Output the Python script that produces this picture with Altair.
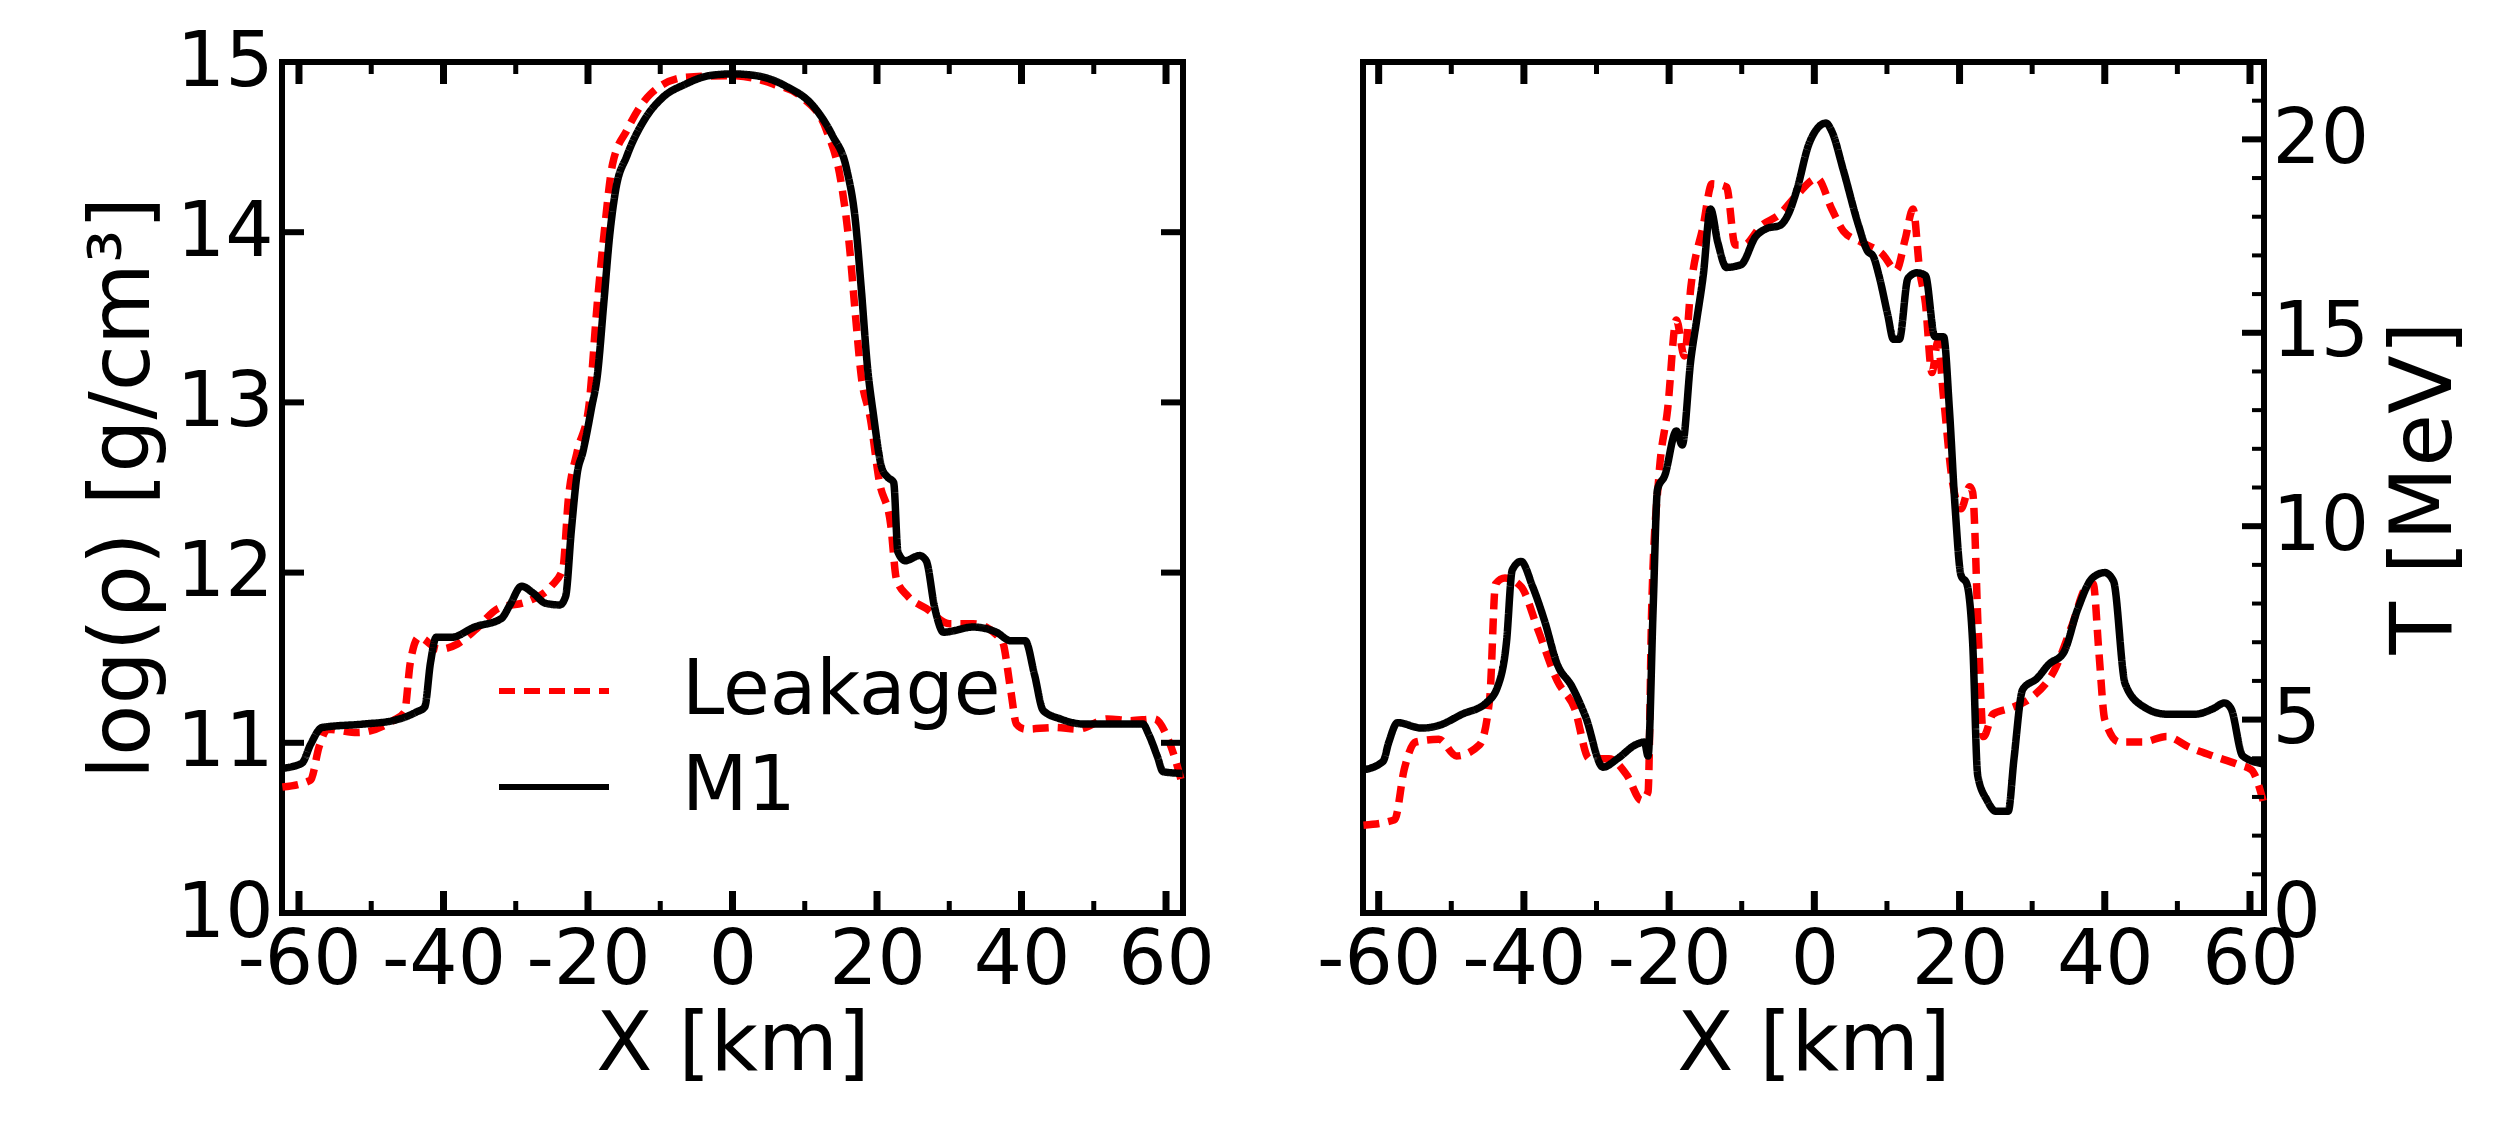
import altair as alt
import pandas as pd

FONT = "DejaVu Sans"

# ---------------- data: left panel, log(rho) ----------------
rho_m1_x = [-62.3, -59.6, -58.4, -56.8, -51.1, -47.0, -43.8, -42.6, -41.8, -41.0,
            -38.9, -35.7, -32.0, -30.8, -29.2, -27.6, -25.9, -23.9, -23.1, -22.3,
            -21.5, -20.7, -19.5, -18.7, -17.8, -17.0, -16.2, -14.6, -12.2, -9.7,
            -6.5, -3.2, 0.0, 3.2, 7.3, 11.4, 13.8, 15.8, 17.0, 17.8,
            18.7, 19.5, 20.7, 21.5, 22.3, 22.9, 23.9, 25.9, 26.8, 28.0,
            29.2, 33.3, 36.5, 38.5, 40.5, 41.8, 43.0, 45.4, 48.7, 56.8,
            57.6, 58.8, 59.6, 62.3]
rho_m1_y = [10.85, 10.88, 10.99, 11.09, 11.11, 11.13, 11.18, 11.21, 11.47, 11.62,
            11.62, 11.68, 11.73, 11.81, 11.92, 11.88, 11.82, 11.81, 11.86, 12.25,
            12.58, 12.71, 12.97, 13.16, 13.59, 13.98, 14.24, 14.45, 14.66, 14.79,
            14.87, 14.92, 14.93, 14.92, 14.86, 14.73, 14.57, 14.37, 14.07, 13.68,
            13.20, 12.93, 12.61, 12.56, 12.53, 12.12, 12.07, 12.10, 12.07, 11.79,
            11.65, 11.68, 11.65, 11.60, 11.60, 11.40, 11.19, 11.14, 11.11, 11.11,
            11.05, 10.92, 10.83, 10.82]

rho_lk_x = [-62.3, -58.4, -57.2, -56.0, -51.9, -47.0, -45.4, -44.6, -43.4, -40.6,
            -38.1, -35.7, -32.4, -28.4, -25.1, -23.5, -22.7, -21.5, -19.9, -18.7,
            -17.8, -16.6, -14.6, -11.4, -6.5, 0.0, 5.7, 9.7, 13.0, 15.0,
            16.2, 17.0, 17.8, 19.1, 20.3, 21.9, 22.7, 24.3, 26.8, 30.0,
            33.3, 37.3, 38.5, 39.3, 40.5, 44.6, 47.8, 51.9, 55.1, 58.4,
            60.4, 62.3]
rho_lk_y = [10.74, 10.78, 10.98, 11.08, 11.06, 11.13, 11.18, 11.47, 11.62, 11.55,
            11.58, 11.66, 11.79, 11.83, 11.92, 12.02, 12.44, 12.71, 12.97, 13.59,
            13.98, 14.40, 14.60, 14.81, 14.91, 14.92, 14.87, 14.79, 14.60, 14.30,
            13.91, 13.52, 13.16, 12.90, 12.54, 12.28, 11.96, 11.86, 11.79, 11.70,
            11.70, 11.60, 11.31, 11.11, 11.08, 11.09, 11.08, 11.14, 11.13, 11.14,
            11.01, 10.75]

# ---------------- data: right panel, T [MeV] ----------------
t_m1_x = [-62.1, -59.4, -58.6, -57.4, -54.1, -51.7, -48.5, -45.2, -43.6, -42.4,
          -41.6, -40.4, -38.8, -37.2, -35.4, -33.4, -31.5, -29.1, -27.1, -24.6,
          -23.4, -22.9, -22.2, -21.6, -20.6, -19.0, -18.2, -17.0, -16.2, -15.3,
          -14.3, -13.3, -12.1, -10.1, -8.1, -6.5, -4.8, -3.6, -2.4, -0.8,
          0.4, 1.6, 2.4, 4.0, 6.1, 7.3, 8.1, 8.9, 10.1, 10.9,
          11.7, 12.9, 14.1, 15.3, 16.6, 17.8, 18.6, 19.4, 20.2, 21.0,
          21.8, 22.5, 23.8, 25.0, 26.7, 27.5, 28.7, 30.7, 32.3, 34.3,
          36.3, 38.3, 40.0, 41.2, 42.8, 45.2, 48.5, 52.5, 54.9, 56.5,
          57.4, 59.0, 61.9]
t_m1_y = [3.70, 3.92, 4.42, 4.92, 4.78, 4.85, 5.14, 5.43, 5.86, 7.00,
          8.87, 9.09, 8.44, 7.58, 6.43, 5.86, 5.07, 3.77, 3.99, 4.35,
          4.42, 4.06, 7.87, 10.95, 11.31, 12.46, 12.10, 14.32, 15.33, 16.48,
          18.20, 17.34, 16.69, 16.76, 17.48, 17.70, 17.77, 18.06, 18.70, 19.85,
          20.28, 20.42, 20.21, 19.20, 17.77, 17.12, 16.98, 16.48, 15.47, 14.83,
          14.83, 16.41, 16.55, 16.48, 14.90, 14.90, 13.03, 10.45, 8.73, 8.51,
          7.00, 3.56, 2.91, 2.63, 2.63, 3.99, 5.78, 6.07, 6.43, 6.72,
          7.87, 8.66, 8.80, 8.58, 5.93, 5.35, 5.14, 5.14, 5.28, 5.43,
          5.28, 4.06, 3.85]

t_lk_x = [-62.1, -57.8, -56.5, -54.9, -51.7, -49.3, -46.1, -44.7, -43.9, -42.6,
          -40.4, -38.0, -35.4, -33.0, -31.0, -28.3, -25.8, -23.8, -22.9, -22.4,
          -21.4, -20.2, -19.0, -17.9, -17.0, -15.3, -14.1, -12.1, -10.9, -9.7,
          -7.3, -4.8, -2.4, 0.4, 2.4, 4.0, 6.5, 9.3, 11.3, 12.5,
          13.6, 14.5, 15.3, 16.2, 17.0, 17.8, 19.0, 20.2, 21.4, 21.8,
          22.6, 23.3, 24.6, 26.7, 29.9, 33.1, 35.5, 37.5, 38.4, 39.2,
          40.0, 42.0, 45.2, 48.5, 51.7, 54.9, 58.2, 60.2, 61.9]
t_lk_y = [2.27, 2.41, 3.70, 4.42, 4.49, 4.06, 4.35, 5.57, 8.51, 8.66,
          8.44, 7.29, 6.00, 5.28, 3.99, 3.99, 3.56, 2.91, 3.13, 7.87,
          11.31, 13.03, 15.33, 14.40, 16.19, 17.77, 18.85, 18.77, 17.27, 17.27,
          17.77, 18.06, 18.56, 18.99, 18.20, 17.63, 17.34, 17.05, 16.62, 17.41,
          18.20, 16.62, 15.76, 13.97, 14.76, 13.32, 11.17, 10.45, 11.02, 10.88,
          7.15, 4.56, 5.14, 5.28, 5.57, 6.29, 7.44, 8.44, 8.51, 6.72,
          5.00, 4.42, 4.42, 4.56, 4.28, 4.06, 3.85, 3.70, 2.84]

series_names = ["Leakage", "M1"]
series_colors = ["#ff0000", "#000000"]

# ---------------- tick positions ----------------
x_major = [-60, -40, -20, 0, 20, 40, 60]
x_minor = [-50, -30, -10, 10, 30, 50]
rho_major = [10, 11, 12, 13, 14, 15]
t_major = [0, 5, 10, 15, 20]
t_minor = [1, 2, 3, 4, 6, 7, 8, 9, 11, 12, 13, 14, 16, 17, 18, 19, 21]

W, H = 901, 851
MAJ, MIN = 22, 12
LW = 7.5

rho_df = pd.DataFrame({
    "x": rho_lk_x + rho_m1_x,
    "v": rho_lk_y + rho_m1_y,
    "series": ["Leakage"] * len(rho_lk_x) + ["M1"] * len(rho_m1_x),
})
t_df = pd.DataFrame({
    "x": t_lk_x + t_m1_x,
    "v": t_lk_y + t_m1_y,
    "series": ["Leakage"] * len(t_lk_x) + ["M1"] * len(t_m1_x),
})


def x_axis():
    return alt.Axis(values=x_major, labelExpr="datum.value + ''", ticks=False, tickSize=0,
                    domain=False, grid=False, labelFontSize=76, labelFont=FONT,
                    labelColor="black", labelPadding=10, labelFlush=False,
                    title="X [km]", titleFont=FONT, titleFontSize=82,
                    titleFontWeight="normal", titleColor="black", titlePadding=6)


def y_axis_left():
    return alt.Axis(values=rho_major, ticks=False, tickSize=0, domain=False, grid=False,
                    labelFontSize=76, labelFont=FONT, labelColor="black", labelPadding=9,
                    labelFlush=False,
                    title="log(ρ) [g/cm³]", titleFont=FONT, titleFontSize=84,
                    titleFontWeight="normal", titleColor="black", titlePadding=10)


def y_axis_right():
    return alt.Axis(orient="right", values=t_major, ticks=False, tickSize=0, domain=False,
                    grid=False, labelFontSize=76, labelFont=FONT, labelColor="black",
                    labelPadding=8, labelFlush=False,
                    title="T [MeV]", titleFont=FONT, titleFontSize=86, titleAngle=270,
                    titleBaseline="top", titleFontWeight="normal", titleColor="black",
                    titlePadding=14)


def tick_layers(xscale, yscale, xax, yax, yvals_major, yvals_minor, left_ticks, right_ticks):
    layers = []
    for vals, ln, sw in [(x_major, MAJ, 7), (x_minor, MIN, 5)]:
        d = pd.DataFrame({"x": vals})
        layers.append(alt.Chart(d).mark_rule(color="black", strokeWidth=sw).encode(
            x=alt.X("x:Q", scale=xscale, axis=xax()), y=alt.value(H), y2=alt.value(H - ln)))
        layers.append(alt.Chart(d).mark_rule(color="black", strokeWidth=sw).encode(
            x=alt.X("x:Q", scale=xscale, axis=xax()), y=alt.value(0), y2=alt.value(ln)))
    for vals, ln, sw in [(yvals_major, MAJ, 6), (yvals_minor, MIN, 4)]:
        if not vals:
            continue
        d = pd.DataFrame({"v": vals})
        if left_ticks:
            layers.append(alt.Chart(d).mark_rule(color="black", strokeWidth=sw).encode(
                y=alt.Y("v:Q", scale=yscale, axis=yax()), x=alt.value(0), x2=alt.value(ln)))
        if right_ticks:
            layers.append(alt.Chart(d).mark_rule(color="black", strokeWidth=sw).encode(
                y=alt.Y("v:Q", scale=yscale, axis=yax()), x=alt.value(W), x2=alt.value(W - ln)))
    return layers


legend_def = alt.Legend(title=None, orient="none", legendX=214, legendY=571,
                        symbolType="stroke", symbolSize=12100, symbolStrokeWidth=6,
                        labelFontSize=76, labelFont=FONT, labelColor="black",
                        labelOffset=70, rowPadding=0, padding=0, labelLimit=0)

# ---------------- left panel ----------------
xs_left = alt.Scale(domain=[-62.35, 62.35], nice=False, zero=False)
ys_left = alt.Scale(domain=[10, 15], nice=False, zero=False)

left_lines = alt.Chart(rho_df).mark_line(strokeWidth=LW, interpolate="monotone").encode(
    x=alt.X("x:Q", scale=xs_left, axis=x_axis()),
    y=alt.Y("v:Q", scale=ys_left, axis=y_axis_left()),
    color=alt.Color("series:N", scale=alt.Scale(domain=series_names, range=series_colors),
                    legend=legend_def),
    strokeDash=alt.StrokeDash("series:N", scale=alt.Scale(domain=series_names,
                                                          range=[[16, 9], [1, 0]]),
                              legend=legend_def),
    order=alt.Order("x:Q"),
)

left = alt.layer(
    left_lines,
    *tick_layers(xs_left, ys_left, x_axis, y_axis_left, rho_major, [], True, True)
).properties(width=W, height=H)

# ---------------- right panel ----------------
xs_right = alt.Scale(domain=[-62.16, 61.93], nice=False, zero=False)
ys_right = alt.Scale(domain=[0, 22], nice=False, zero=False)

right_lines = alt.Chart(t_df).mark_line(strokeWidth=LW, interpolate="monotone").encode(
    x=alt.X("x:Q", scale=xs_right, axis=x_axis()),
    y=alt.Y("v:Q", scale=ys_right, axis=y_axis_right()),
    color=alt.Color("series:N", scale=alt.Scale(domain=series_names, range=series_colors),
                    legend=None),
    strokeDash=alt.StrokeDash("series:N", scale=alt.Scale(domain=series_names,
                                                          range=[[16, 9], [1, 0]]),
                              legend=None),
    order=alt.Order("x:Q"),
)

right = alt.layer(
    right_lines,
    *tick_layers(xs_right, ys_right, x_axis, y_axis_right, t_major, t_minor, False, True)
).properties(width=W, height=H)

chart = alt.hconcat(left, right, spacing=180, bounds="flush").resolve_scale(
    color="independent", strokeDash="independent"
).properties(
    padding={"left": 78, "top": 21, "right": 10, "bottom": 10},
    background="white",
).configure_view(stroke="black", strokeWidth=6)

chart.save("out.html", embed_options={"renderer": "svg", "actions": False})
